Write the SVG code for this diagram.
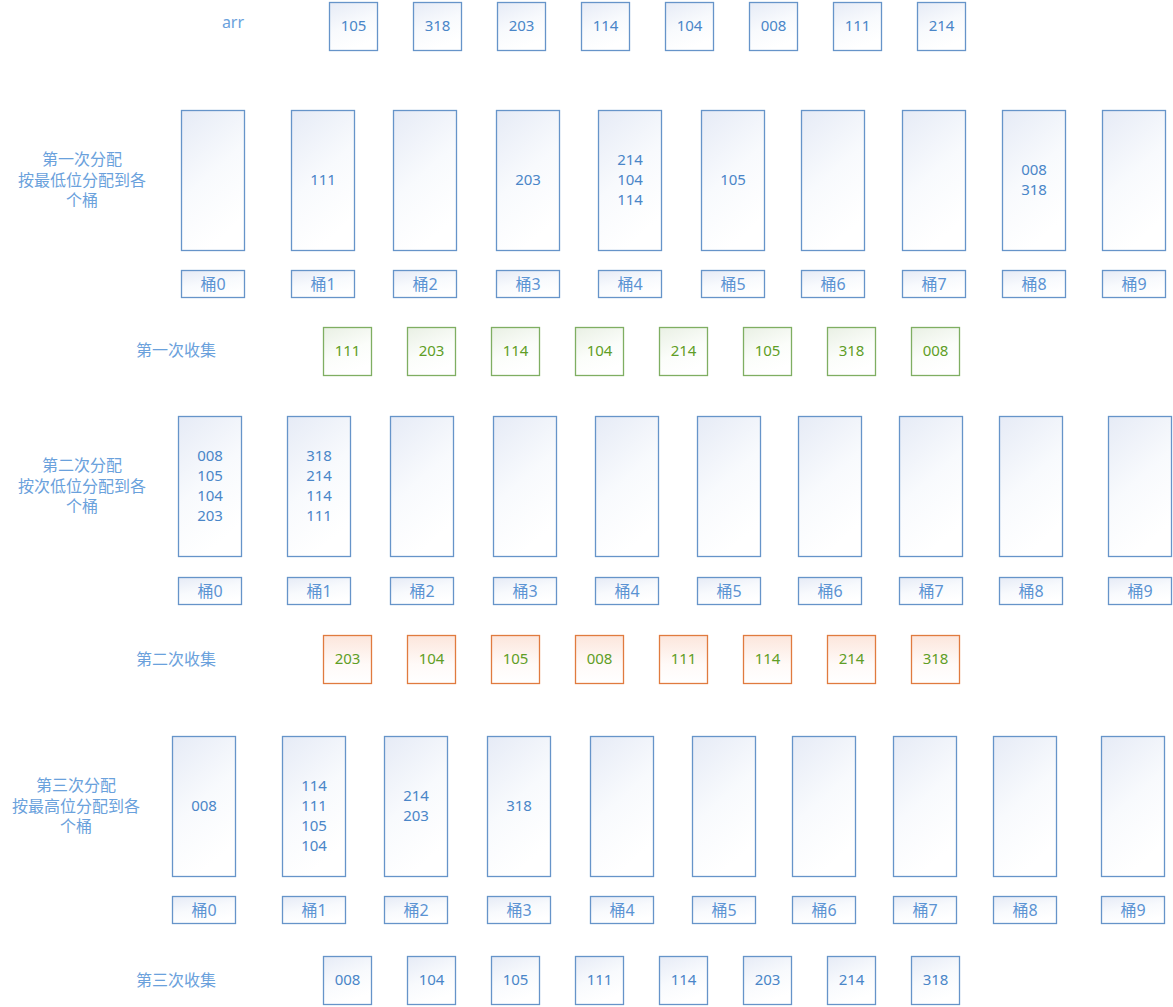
<svg xmlns="http://www.w3.org/2000/svg" width="1173" height="1007" viewBox="0 0 1173 1007">
<defs>
<linearGradient id="gb" x1="0" y1="0" x2="0.4" y2="1"><stop offset="0" stop-color="#e6ebf6"/><stop offset="0.55" stop-color="#f8fafd"/><stop offset="1" stop-color="#ffffff"/></linearGradient>
<linearGradient id="gg" x1="0" y1="0" x2="0.4" y2="1"><stop offset="0" stop-color="#e9f0e4"/><stop offset="0.6" stop-color="#fbfdfa"/><stop offset="1" stop-color="#ffffff"/></linearGradient>
<linearGradient id="go" x1="0" y1="0" x2="0" y2="1"><stop offset="0" stop-color="#fce6dc"/><stop offset="0.6" stop-color="#fffaf8"/><stop offset="1" stop-color="#ffffff"/></linearGradient>
</defs>
<style>
.b{fill:url(#gb);stroke:#6694c9;stroke-width:1.3}
.g{fill:url(#gg);stroke:#7fae62;stroke-width:1.3}
.o{fill:url(#go);stroke:#e07b3f;stroke-width:1.3}
text{font-family:"Noto Sans","Noto Sans CJK SC",sans-serif;font-size:15px;text-anchor:middle}
.n{fill:#4a86c8}
.l{fill:#5b93d3;font-size:16px}
.t{fill:#6aa1dc;font-size:16px}
.gt{fill:#5f9e26}
</style>
<g id="arr">
<text class="t" x="233" y="28">arr</text>
<rect class="b" x="329.5" y="2.5" width="48" height="48"/><text class="n" x="353.5" y="31">105</text>
<rect class="b" x="413.5" y="2.5" width="48" height="48"/><text class="n" x="437.5" y="31">318</text>
<rect class="b" x="497.5" y="2.5" width="48" height="48"/><text class="n" x="521.5" y="31">203</text>
<rect class="b" x="581.5" y="2.5" width="48" height="48"/><text class="n" x="605.5" y="31">114</text>
<rect class="b" x="665.5" y="2.5" width="48" height="48"/><text class="n" x="689.5" y="31">104</text>
<rect class="b" x="749.5" y="2.5" width="48" height="48"/><text class="n" x="773.5" y="31">008</text>
<rect class="b" x="833.5" y="2.5" width="48" height="48"/><text class="n" x="857.5" y="31">111</text>
<rect class="b" x="917.5" y="2.5" width="48" height="48"/><text class="n" x="941.5" y="31">214</text>
</g>
<g id="pass1">
<text class="t" x="82" y="165">第一次分配</text>
<text class="t" x="82" y="186">按最低位分配到各</text>
<text class="t" x="82" y="206">个桶</text>
<rect class="b" x="181.5" y="110.5" width="63" height="140"/>
<rect class="b" x="291.5" y="110.5" width="63" height="140"/><text class="n" x="323" y="185">111</text>
<rect class="b" x="393.5" y="110.5" width="63" height="140"/>
<rect class="b" x="496.5" y="110.5" width="63" height="140"/><text class="n" x="528" y="185">203</text>
<rect class="b" x="598.5" y="110.5" width="63" height="140"/><text class="n" x="630" y="165">214</text><text class="n" x="630" y="185">104</text><text class="n" x="630" y="205">114</text>
<rect class="b" x="701.5" y="110.5" width="63" height="140"/><text class="n" x="733" y="185">105</text>
<rect class="b" x="801.5" y="110.5" width="63" height="140"/>
<rect class="b" x="902.5" y="110.5" width="63" height="140"/>
<rect class="b" x="1002.5" y="110.5" width="63" height="140"/><text class="n" x="1034" y="175">008</text><text class="n" x="1034" y="195">318</text>
<rect class="b" x="1102.5" y="110.5" width="63" height="140"/>
<rect class="b" x="181.5" y="270.5" width="63" height="27"/><text class="l" x="213" y="290">桶0</text>
<rect class="b" x="291.5" y="270.5" width="63" height="27"/><text class="l" x="323" y="290">桶1</text>
<rect class="b" x="393.5" y="270.5" width="63" height="27"/><text class="l" x="425" y="290">桶2</text>
<rect class="b" x="496.5" y="270.5" width="63" height="27"/><text class="l" x="528" y="290">桶3</text>
<rect class="b" x="598.5" y="270.5" width="63" height="27"/><text class="l" x="630" y="290">桶4</text>
<rect class="b" x="701.5" y="270.5" width="63" height="27"/><text class="l" x="733" y="290">桶5</text>
<rect class="b" x="801.5" y="270.5" width="63" height="27"/><text class="l" x="833" y="290">桶6</text>
<rect class="b" x="902.5" y="270.5" width="63" height="27"/><text class="l" x="934" y="290">桶7</text>
<rect class="b" x="1002.5" y="270.5" width="63" height="27"/><text class="l" x="1034" y="290">桶8</text>
<rect class="b" x="1102.5" y="270.5" width="63" height="27"/><text class="l" x="1134" y="290">桶9</text>
</g>
<g id="collect1">
<text class="t" x="176" y="356">第一次收集</text>
<rect class="g" x="323.5" y="327.5" width="48" height="48"/><text class="gt" x="347.5" y="356">111</text>
<rect class="g" x="407.5" y="327.5" width="48" height="48"/><text class="gt" x="431.5" y="356">203</text>
<rect class="g" x="491.5" y="327.5" width="48" height="48"/><text class="gt" x="515.5" y="356">114</text>
<rect class="g" x="575.5" y="327.5" width="48" height="48"/><text class="gt" x="599.5" y="356">104</text>
<rect class="g" x="659.5" y="327.5" width="48" height="48"/><text class="gt" x="683.5" y="356">214</text>
<rect class="g" x="743.5" y="327.5" width="48" height="48"/><text class="gt" x="767.5" y="356">105</text>
<rect class="g" x="827.5" y="327.5" width="48" height="48"/><text class="gt" x="851.5" y="356">318</text>
<rect class="g" x="911.5" y="327.5" width="48" height="48"/><text class="gt" x="935.5" y="356">008</text>
</g>
<g id="pass2">
<text class="t" x="82" y="471">第二次分配</text>
<text class="t" x="82" y="492">按次低位分配到各</text>
<text class="t" x="82" y="512">个桶</text>
<rect class="b" x="178.5" y="416.5" width="63" height="140"/><text class="n" x="210" y="461">008</text><text class="n" x="210" y="481">105</text><text class="n" x="210" y="501">104</text><text class="n" x="210" y="521">203</text>
<rect class="b" x="287.5" y="416.5" width="63" height="140"/><text class="n" x="319" y="461">318</text><text class="n" x="319" y="481">214</text><text class="n" x="319" y="501">114</text><text class="n" x="319" y="521">111</text>
<rect class="b" x="390.5" y="416.5" width="63" height="140"/>
<rect class="b" x="493.5" y="416.5" width="63" height="140"/>
<rect class="b" x="595.5" y="416.5" width="63" height="140"/>
<rect class="b" x="697.5" y="416.5" width="63" height="140"/>
<rect class="b" x="798.5" y="416.5" width="63" height="140"/>
<rect class="b" x="899.5" y="416.5" width="63" height="140"/>
<rect class="b" x="999.5" y="416.5" width="63" height="140"/>
<rect class="b" x="1108.5" y="416.5" width="63" height="140"/>
<rect class="b" x="178.5" y="577.5" width="63" height="27"/><text class="l" x="210" y="597">桶0</text>
<rect class="b" x="287.5" y="577.5" width="63" height="27"/><text class="l" x="319" y="597">桶1</text>
<rect class="b" x="390.5" y="577.5" width="63" height="27"/><text class="l" x="422" y="597">桶2</text>
<rect class="b" x="493.5" y="577.5" width="63" height="27"/><text class="l" x="525" y="597">桶3</text>
<rect class="b" x="595.5" y="577.5" width="63" height="27"/><text class="l" x="627" y="597">桶4</text>
<rect class="b" x="697.5" y="577.5" width="63" height="27"/><text class="l" x="729" y="597">桶5</text>
<rect class="b" x="798.5" y="577.5" width="63" height="27"/><text class="l" x="830" y="597">桶6</text>
<rect class="b" x="899.5" y="577.5" width="63" height="27"/><text class="l" x="931" y="597">桶7</text>
<rect class="b" x="999.5" y="577.5" width="63" height="27"/><text class="l" x="1031" y="597">桶8</text>
<rect class="b" x="1108.5" y="577.5" width="63" height="27"/><text class="l" x="1140" y="597">桶9</text>
</g>
<g id="collect2">
<text class="t" x="176" y="665">第二次收集</text>
<rect class="o" x="323.5" y="635.5" width="48" height="48"/><text class="gt" x="347.5" y="664">203</text>
<rect class="o" x="407.5" y="635.5" width="48" height="48"/><text class="gt" x="431.5" y="664">104</text>
<rect class="o" x="491.5" y="635.5" width="48" height="48"/><text class="gt" x="515.5" y="664">105</text>
<rect class="o" x="575.5" y="635.5" width="48" height="48"/><text class="gt" x="599.5" y="664">008</text>
<rect class="o" x="659.5" y="635.5" width="48" height="48"/><text class="gt" x="683.5" y="664">111</text>
<rect class="o" x="743.5" y="635.5" width="48" height="48"/><text class="gt" x="767.5" y="664">114</text>
<rect class="o" x="827.5" y="635.5" width="48" height="48"/><text class="gt" x="851.5" y="664">214</text>
<rect class="o" x="911.5" y="635.5" width="48" height="48"/><text class="gt" x="935.5" y="664">318</text>
</g>
<g id="pass3">
<text class="t" x="76" y="791">第三次分配</text>
<text class="t" x="76" y="812">按最高位分配到各</text>
<text class="t" x="76" y="832">个桶</text>
<rect class="b" x="172.5" y="736.5" width="63" height="140"/><text class="n" x="204" y="811">008</text>
<rect class="b" x="282.5" y="736.5" width="63" height="140"/><text class="n" x="314" y="791">114</text><text class="n" x="314" y="811">111</text><text class="n" x="314" y="831">105</text><text class="n" x="314" y="851">104</text>
<rect class="b" x="384.5" y="736.5" width="63" height="140"/><text class="n" x="416" y="801">214</text><text class="n" x="416" y="821">203</text>
<rect class="b" x="487.5" y="736.5" width="63" height="140"/><text class="n" x="519" y="811">318</text>
<rect class="b" x="590.5" y="736.5" width="63" height="140"/>
<rect class="b" x="692.5" y="736.5" width="63" height="140"/>
<rect class="b" x="792.5" y="736.5" width="63" height="140"/>
<rect class="b" x="893.5" y="736.5" width="63" height="140"/>
<rect class="b" x="993.5" y="736.5" width="63" height="140"/>
<rect class="b" x="1101.5" y="736.5" width="63" height="140"/>
<rect class="b" x="172.5" y="896.5" width="63" height="27"/><text class="l" x="204" y="916">桶0</text>
<rect class="b" x="282.5" y="896.5" width="63" height="27"/><text class="l" x="314" y="916">桶1</text>
<rect class="b" x="384.5" y="896.5" width="63" height="27"/><text class="l" x="416" y="916">桶2</text>
<rect class="b" x="487.5" y="896.5" width="63" height="27"/><text class="l" x="519" y="916">桶3</text>
<rect class="b" x="590.5" y="896.5" width="63" height="27"/><text class="l" x="622" y="916">桶4</text>
<rect class="b" x="692.5" y="896.5" width="63" height="27"/><text class="l" x="724" y="916">桶5</text>
<rect class="b" x="792.5" y="896.5" width="63" height="27"/><text class="l" x="824" y="916">桶6</text>
<rect class="b" x="893.5" y="896.5" width="63" height="27"/><text class="l" x="925" y="916">桶7</text>
<rect class="b" x="993.5" y="896.5" width="63" height="27"/><text class="l" x="1025" y="916">桶8</text>
<rect class="b" x="1101.5" y="896.5" width="63" height="27"/><text class="l" x="1133" y="916">桶9</text>
</g>
<g id="collect3">
<text class="t" x="176" y="986">第三次收集</text>
<rect class="b" x="323.5" y="956.5" width="48" height="48"/><text class="n" x="347.5" y="985">008</text>
<rect class="b" x="407.5" y="956.5" width="48" height="48"/><text class="n" x="431.5" y="985">104</text>
<rect class="b" x="491.5" y="956.5" width="48" height="48"/><text class="n" x="515.5" y="985">105</text>
<rect class="b" x="575.5" y="956.5" width="48" height="48"/><text class="n" x="599.5" y="985">111</text>
<rect class="b" x="659.5" y="956.5" width="48" height="48"/><text class="n" x="683.5" y="985">114</text>
<rect class="b" x="743.5" y="956.5" width="48" height="48"/><text class="n" x="767.5" y="985">203</text>
<rect class="b" x="827.5" y="956.5" width="48" height="48"/><text class="n" x="851.5" y="985">214</text>
<rect class="b" x="911.5" y="956.5" width="48" height="48"/><text class="n" x="935.5" y="985">318</text>
</g>
</svg>
